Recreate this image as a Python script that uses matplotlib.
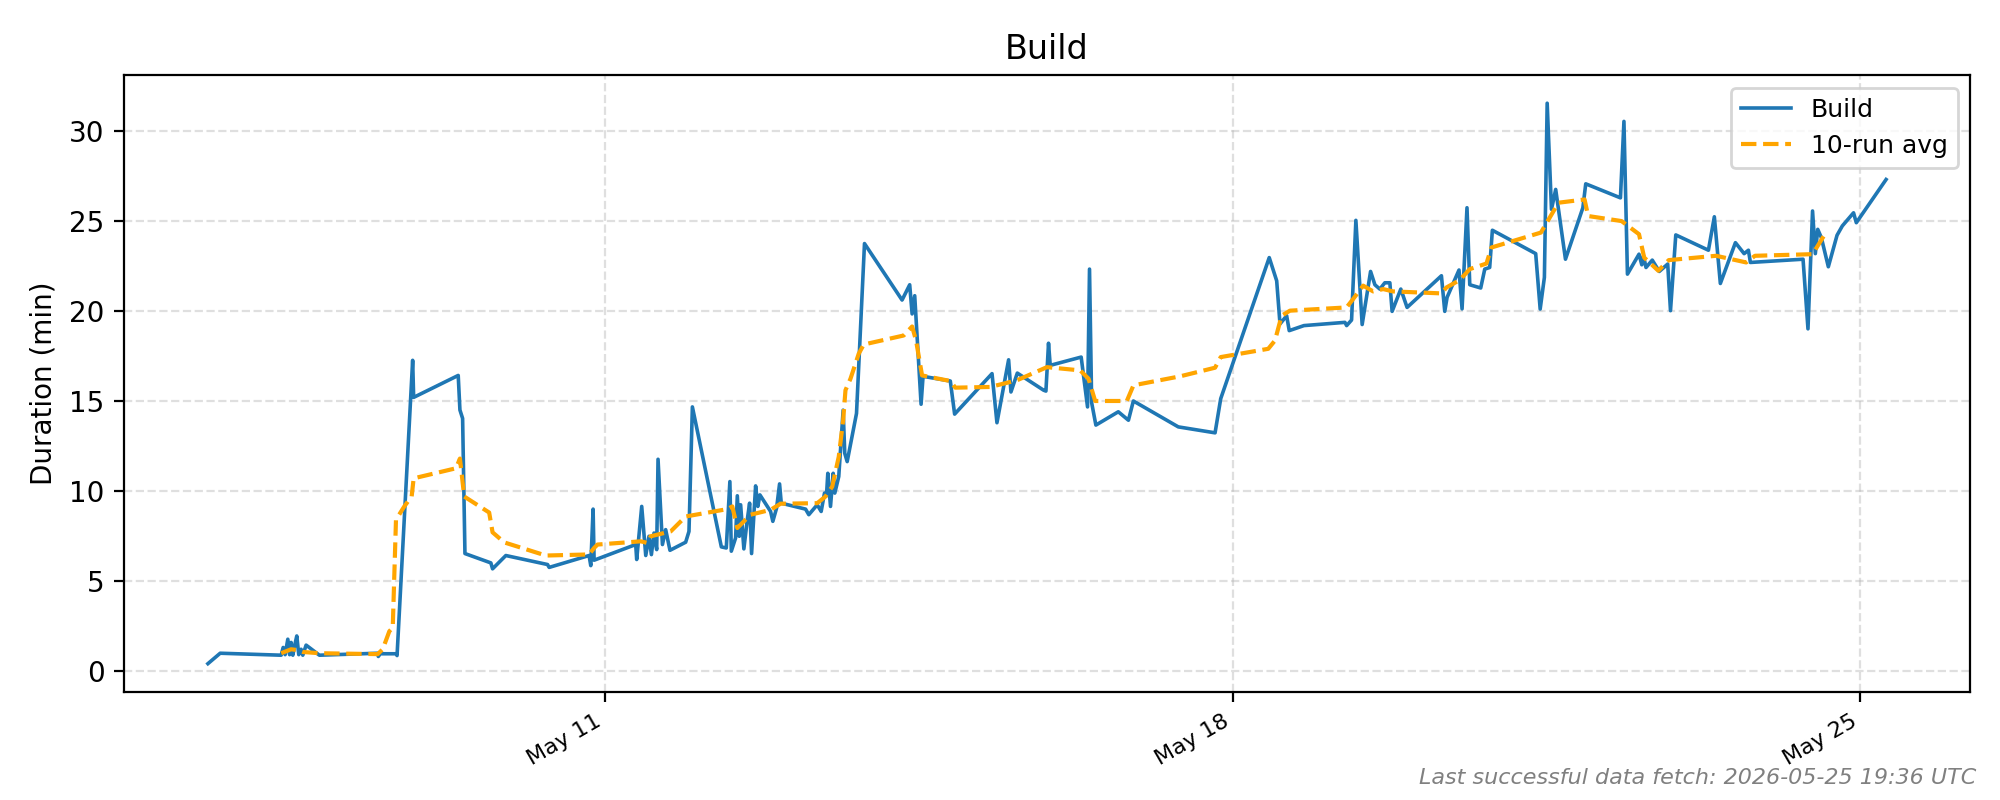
import numpy as np
import pandas as pd
import matplotlib
matplotlib.use('Agg')
import matplotlib.pyplot as plt
import matplotlib.dates as mdates

base = pd.Timestamp('2026-05-11')

# build runs: days since May 11 00:00 UTC, duration in minutes
build_days = [-4.425, -4.288, -3.608, -3.586, -3.564, -3.534, -3.514, -3.497, -3.478, -3.460,
              -3.434, -3.412, -3.386, -3.367, -3.330, -3.182, -2.532, -2.525, -2.503, -2.328,
              -2.316, -2.142, -2.131, -1.634, -1.615, -1.585, -1.559, -1.270, -1.251, -1.103,
              -0.638, -0.620, -0.175, -0.156, -0.130, -0.119, 0.345, 0.356, 0.412, 0.457,
              0.493, 0.520, 0.549, 0.579, 0.594, 0.643, 0.679, 0.727, 0.902, 0.939,
              0.977, 1.300, 1.355, 1.395, 1.411, 1.459, 1.478, 1.500, 1.515, 1.551,
              1.589, 1.615, 1.637, 1.682, 1.707, 1.730, 1.849, 1.874, 1.916, 1.949,
              1.968, 2.239, 2.275, 2.369, 2.413, 2.450, 2.472, 2.487, 2.517, 2.547,
              2.565, 2.609, 2.658, 2.676, 2.703, 2.807, 2.896, 3.315, 3.400, 3.427,
              3.456, 3.527, 3.549, 3.853, 3.901, 4.318, 4.373, 4.503, 4.529, 4.600,
              4.893, 4.919, 4.948, 4.967, 5.312, 5.383, 5.405, 5.429, 5.476, 5.726,
              5.839, 5.894, 6.395, 6.805, 6.868, 7.409, 7.492, 7.529, 7.603, 7.632,
              7.796, 8.253, 8.272, 8.327, 8.375, 8.445, 8.539, 8.587, 8.642, 8.698,
              8.754, 8.779, 8.876, 8.946, 9.329, 9.366, 9.392, 9.525, 9.559, 9.614,
              9.645, 9.767, 9.812, 9.867, 9.897, 10.380, 10.430, 10.477, 10.508, 10.556,
              10.603, 10.712, 10.906, 10.938, 11.325, 11.364, 11.403, 11.532, 11.563, 11.582,
              11.610, 11.680, 11.758, 11.852, 11.883, 11.942, 12.306, 12.372, 12.439, 12.607,
              12.704, 12.752, 12.774, 13.361, 13.416, 13.467, 13.498, 13.525, 13.565, 13.643,
              13.740, 13.799, 13.924, 13.955, 14.287]
build_min = [0.40, 0.98, 0.87, 1.30, 0.90, 1.76, 0.90, 1.58, 0.87, 1.35,
             1.94, 0.90, 1.20, 0.87, 1.43, 0.87, 0.98, 0.80, 0.95, 0.95,
             0.85, 17.26, 15.20, 16.42, 14.50, 14.03, 6.52, 6.00, 5.67, 6.41,
             5.91, 5.75, 6.41, 5.85, 8.99, 6.15, 7.02, 6.19, 9.14, 6.41,
             7.48, 6.46, 7.66, 6.74, 11.76, 7.02, 7.85, 6.70, 7.15, 7.75,
             14.67, 6.89, 6.83, 10.52, 6.65, 7.39, 9.73, 7.48, 9.23, 6.78,
             8.40, 9.32, 6.52, 10.28, 9.14, 9.78, 8.86, 8.31, 9.05, 10.39,
             9.32, 8.99, 8.68, 9.23, 8.86, 9.88, 9.73, 10.98, 9.14, 10.98,
             9.88, 10.80, 14.49, 12.09, 11.63, 14.31, 23.75, 20.61, 21.46, 19.84,
             20.85, 14.82, 16.37, 16.11, 14.27, 16.52, 13.79, 17.29, 15.50, 16.55,
             15.60, 15.55, 18.21, 16.98, 17.44, 14.67, 22.33, 14.90, 13.66, 14.40,
             13.93, 15.00, 13.56, 13.23, 15.13, 22.97, 21.68, 19.28, 19.74, 18.91,
             19.19, 19.37, 19.19, 19.50, 25.04, 19.25, 22.20, 21.46, 21.22, 21.57,
             21.57, 19.98, 21.22, 20.20, 21.96, 19.98, 20.76, 22.28, 20.12, 25.74,
             21.46, 21.28, 22.33, 22.42, 24.49, 23.19, 20.11, 21.87, 31.55, 25.65,
             26.76, 22.88, 25.74, 27.07, 26.29, 30.54, 22.05, 23.16, 22.57, 23.07,
             22.42, 22.83, 22.20, 22.61, 20.02, 24.23, 23.38, 25.24, 21.53, 23.80,
             23.19, 23.38, 22.70, 22.88, 19.01, 25.56, 23.19, 24.54, 24.08, 22.46,
             24.21, 24.73, 25.46, 24.91, 27.31]

# 10-run average as drawn
avg_days = [-3.608, -3.497, -3.422, -3.367, -3.182, -2.532, -2.476, -2.402, -2.364, -2.328,
            -2.235, -2.153, -2.131, -1.659, -1.615, -1.567, -1.289, -1.251, -1.121, -0.657,
            -0.175, -0.119, -0.081, 0.401, 0.476, 0.512, 0.660, 0.735, 0.902, 1.367,
            1.422, 1.478, 1.551, 1.626, 1.701, 1.849, 1.960, 2.369, 2.461, 2.536,
            2.609, 2.658, 2.684, 2.740, 2.832, 2.888, 3.333, 3.427, 3.471, 3.538,
            3.853, 3.909, 4.299, 4.596, 4.930, 5.301, 5.394, 5.468, 5.821, 5.895,
            6.415, 6.805, 6.868, 7.398, 7.473, 7.547, 7.640, 8.271, 8.345, 8.456,
            8.568, 8.679, 8.790, 9.329, 9.385, 9.533, 9.645, 9.831, 9.886, 10.438,
            10.536, 10.634, 10.925, 10.965, 11.337, 11.532, 11.590, 11.747, 11.864, 12.392,
            12.727, 12.825, 13.467, 13.605]
avg_min = [0.98, 1.20, 1.15, 1.05, 0.98, 0.93, 1.20, 2.20, 2.40, 8.40,
           9.14, 9.70, 10.70, 11.26, 11.80, 9.69, 8.80, 7.70, 7.14, 6.41,
           6.47, 6.83, 7.02, 7.20, 7.11, 7.48, 7.66, 7.75, 8.58, 8.99,
           9.14, 7.94, 8.31, 8.68, 8.77, 8.95, 9.29, 9.32, 9.69, 10.24,
           11.90, 13.93, 15.60, 16.24, 17.63, 18.14, 18.64, 19.14, 18.36, 16.42,
           16.11, 15.74, 15.78, 16.15, 16.88, 16.70, 16.24, 15.00, 15.00, 15.87,
           16.37, 16.85, 17.44, 17.90, 18.36, 19.74, 20.02, 20.20, 20.67, 21.41,
           21.09, 21.22, 21.09, 20.98, 21.31, 21.72, 22.33, 22.64, 23.53, 24.36,
           25.19, 26.02, 26.20, 25.28, 25.00, 24.27, 22.97, 22.24, 22.83, 23.07,
           22.70, 23.07, 23.16, 24.27]

build_t = base + pd.to_timedelta(build_days, unit='D')
avg_t = base + pd.to_timedelta(avg_days, unit='D')

fig, ax = plt.subplots(figsize=(10, 4), dpi=200)
ax.plot(build_t, build_min, color='#1f77b4', linewidth=1.3, label='Build')
ax.plot(avg_t, avg_min, color='orange', linestyle='--', linewidth=1.5, label='10-run avg')

ax.set_title('Build', fontsize=12)
ax.set_ylabel('Duration (min)', fontsize=10)
ax.grid(True, linestyle='--', alpha=0.4)
ax.legend(loc='upper right', fontsize=9)

ax.xaxis.set_major_locator(mdates.WeekdayLocator(byweekday=mdates.MO))
ax.xaxis.set_major_formatter(mdates.DateFormatter('%b %d'))
for lbl in ax.get_xticklabels():
    lbl.set_rotation(30)
    lbl.set_ha('right')
    lbl.set_fontsize(8)

fig.subplots_adjust(left=0.062, right=0.985, bottom=0.1354, top=0.906)
fig.text(0.988, 0.015, 'Last successful data fetch: 2026-05-25 19:36 UTC',
         ha='right', va='bottom', fontsize=8, color='gray', style='italic')

plt.savefig('out.png', dpi=200)
plt.close()
